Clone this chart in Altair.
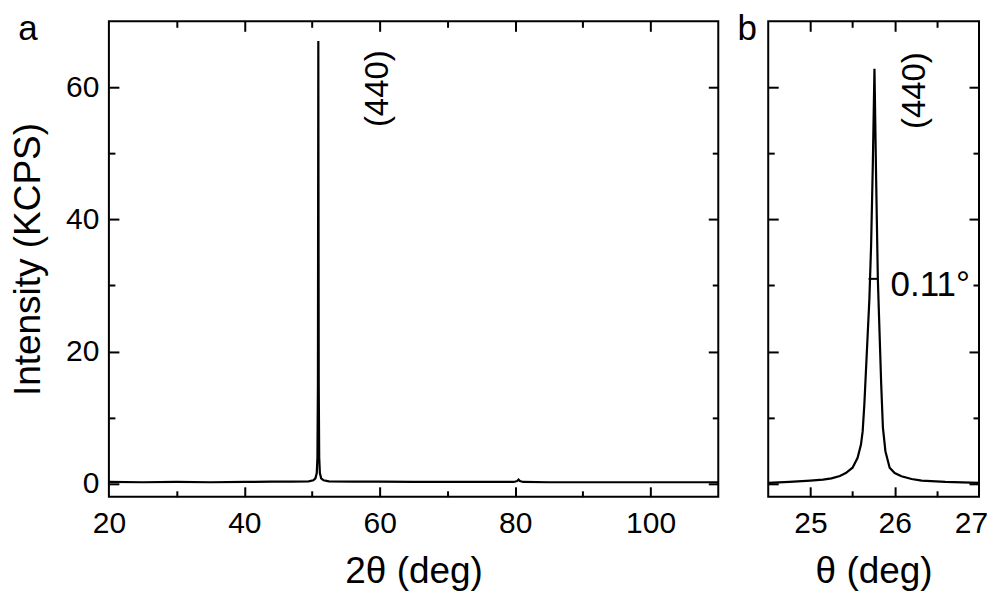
import altair as alt
import pandas as pd

FONT = "Liberation Sans"

# ---- Panel a: 2theta scan ----
two_theta = [20, 25, 30, 35, 40, 44, 47, 49.5, 50.2, 50.5, 50.7, 50.8, 50.87, 50.93,
             50.99, 51.06, 51.16, 51.35, 51.7, 52.5, 56, 60, 65, 70, 75, 79.8, 80.3,
             80.5, 80.7, 81.2, 85, 90, 95, 100, 105, 110]
intensity_a = [0.25, 0.2, 0.25, 0.2, 0.25, 0.3, 0.3, 0.35, 0.5, 0.8, 1.6, 4, 15, 67,
               15, 4, 1.6, 0.8, 0.5, 0.35, 0.3, 0.3, 0.25, 0.25, 0.25, 0.25, 0.4,
               0.6, 0.4, 0.25, 0.2, 0.2, 0.2, 0.2, 0.2, 0.2]

# ---- Panel b: rocking curve ----
theta_b = [24.5, 24.75, 25.0, 25.15, 25.25, 25.35, 25.42, 25.5, 25.56, 25.6, 25.62,
           25.64, 25.67, 25.7, 25.72, 25.74, 25.76, 25.78, 25.8, 25.82, 25.84, 25.86,
           25.89, 25.94, 26.0, 26.08, 26.2, 26.32, 26.6, 27.0]
intensity_b = [0.1, 0.25, 0.45, 0.6, 0.8, 1.15, 1.6, 2.4, 3.9, 5.9, 7.9, 12, 20, 28,
               36, 48, 62.8, 46, 31, 23, 15, 8.5, 4.9, 2.4, 1.6, 1.1, 0.7, 0.45, 0.25, 0.1]

# axis ticks / labels
xa_ticks = [30, 40, 50, 60, 70, 80, 90, 100]
xa_labels = [20, 40, 60, 80, 100]
xb_ticks = [25, 25.5, 26, 26.5]
xb_labels = [25, 26, 27]
y_ticks = [0, 10, 20, 30, 40, 50, 60]
y_labels = [0, 20, 40, 60]

# annotations
hkl_a_x, hkl_a_y = [59.8], [59.8]
hkl_b_x, hkl_b_y = [26.24], [59.5]
hkl_text = ["(440)"]
fwhm_x1, fwhm_x2, fwhm_y = [25.69], [25.80], [31.0]
fwhm_text_x, fwhm_text_y = [25.95], [30.1]
fwhm_text = ["0.11°"]

H = 476
W_A = 610
W_B = 211


def tick_cond(test):
    return {"condition": {"test": test, "value": 10}, "value": 6}


def panel(df, xdom, width, xticks, xlabels, major_test, xtitle, show_y, letter, letter_x,
          extras, label_offset):
    xs = alt.Scale(domain=xdom, nice=False, zero=False)
    ys = alt.Scale(domain=[-2, 70], nice=False, zero=False)
    if show_y:
        y_axis = alt.Axis(values=y_labels, ticks=False, tickSize=0, domain=False, grid=False,
                          labelFontSize=30, labelPadding=10, title="Intensity (KCPS)",
                          titleFontSize=37, titlePadding=18)
    else:
        y_axis = None
    line = alt.Chart(df).mark_line(color="black", strokeWidth=2.2).encode(
        x=alt.X("x:Q", scale=xs, axis=alt.Axis(values=xlabels, ticks=False, tickSize=0, domain=False,
                                               grid=False, labelFontSize=30, labelPadding=12,
                                               labelFlush=False, labelOffset=label_offset,
                                               title=xtitle, titleFontSize=37, titlePadding=15)),
        y=alt.Y("y:Q", scale=ys, axis=y_axis),
        order="x:Q",
    )
    common = dict(labels=False, domain=False, grid=False, title=None, tickWidth=2, tickColor="black")
    t1 = alt.Chart(df).mark_point(opacity=0).encode(
        x=alt.X("x:Q", scale=xs, axis=alt.Axis(orient="top", offset=-H, values=xticks,
                                               tickSize=tick_cond(major_test), **common)),
        y=alt.Y("y:Q", scale=ys, axis=alt.Axis(orient="right", offset=-width, values=y_ticks,
                                               tickSize=tick_cond("datum.value % 20 === 0"), **common)),
    )
    t2 = alt.Chart(df).mark_point(opacity=0).encode(
        x=alt.X("x:Q", scale=xs, axis=alt.Axis(orient="bottom", offset=-H, values=xticks,
                                               tickSize=tick_cond(major_test), **common)),
        y=alt.Y("y:Q", scale=ys, axis=alt.Axis(orient="left", offset=-width, values=y_ticks,
                                               tickSize=tick_cond("datum.value % 20 === 0"), **common)),
    )
    let = alt.Chart(pd.DataFrame({"t": [letter]})).mark_text(
        font=FONT, fontSize=35, align="center", baseline="top", color="black"
    ).encode(x=alt.value(letter_x), y=alt.value(-9), text="t:N")
    layers = [line, t1, t2, let] + [e(xs, ys) for e in extras]
    return alt.layer(*layers).resolve_axis(x="independent", y="independent").properties(
        width=width, height=H)


def hkl_layer(xv, yv):
    def f(xs, ys):
        d = pd.DataFrame({"x": xv, "y": yv, "t": hkl_text})
        return alt.Chart(d).mark_text(font=FONT, fontSize=33, angle=270, align="center",
                                      baseline="middle", color="black").encode(
            x=alt.X("x:Q", scale=xs, axis=None), y=alt.Y("y:Q", scale=ys, axis=None), text="t:N")
    return f


def fwhm_bar(xs, ys):
    d = pd.DataFrame({"x1": fwhm_x1, "x2": fwhm_x2, "y": fwhm_y})
    return alt.Chart(d).mark_rule(color="black", strokeWidth=2).encode(
        x=alt.X("x1:Q", scale=xs, axis=None), x2="x2:Q", y=alt.Y("y:Q", scale=ys, axis=None))


def fwhm_label(xs, ys):
    d = pd.DataFrame({"x": fwhm_text_x, "y": fwhm_text_y, "t": fwhm_text})
    return alt.Chart(d).mark_text(font=FONT, fontSize=35, align="left", baseline="middle",
                                  color="black").encode(
        x=alt.X("x:Q", scale=xs, axis=None), y=alt.Y("y:Q", scale=ys, axis=None), text="t:N")


df_a = pd.DataFrame({"x": two_theta, "y": intensity_a})
df_b = pd.DataFrame({"x": theta_b, "y": intensity_b})

pa = panel(df_a, [20, 110], W_A, xa_ticks, xa_labels, "datum.value % 20 === 0", "2θ (deg)", True,
           "a", -81, [hkl_layer(hkl_a_x, hkl_a_y)], 0)
pb = panel(df_b, [24.5, 27], W_B, xb_ticks, xb_labels, "datum.value % 1 === 0", "θ (deg)", False,
           "b", -21, [hkl_layer(hkl_b_x, hkl_b_y), fwhm_bar, fwhm_label],
           {"condition": {"test": "datum.value === 27", "value": -8}, "value": 0})

chart = alt.hconcat(pa, pb, spacing=50, bounds="flush").properties(
    padding={"left": 0, "top": 3, "right": 0, "bottom": 0},
    background="white",
).configure_view(stroke="black", strokeWidth=2).configure_axis(
    labelFont=FONT, titleFont=FONT, labelColor="black", titleColor="black",
    titleFontWeight="normal")

chart.save("out.html", embed_options={"renderer": "svg", "actions": False})
